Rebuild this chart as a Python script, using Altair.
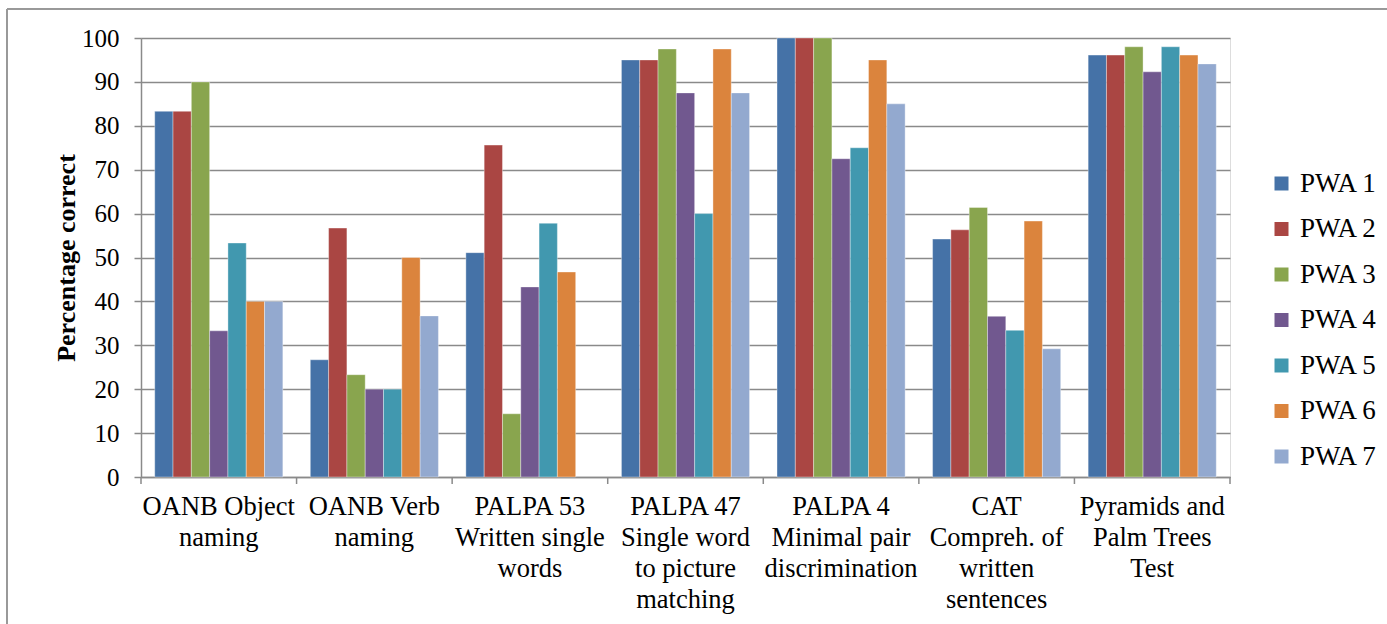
import altair as alt
import pandas as pd

categories = [
    "OANB Object\nnaming",
    "OANB Verb\nnaming",
    "PALPA 53\nWritten single\nwords",
    "PALPA 47\nSingle word\nto picture\nmatching",
    "PALPA 4\nMinimal pair\ndiscrimination",
    "CAT\nCompreh. of\nwritten\nsentences",
    "Pyramids and\nPalm Trees\nTest",
]
series = ["PWA 1", "PWA 2", "PWA 3", "PWA 4", "PWA 5", "PWA 6", "PWA 7"]
colors = ["#4572A7", "#AA4643", "#89A54E", "#71588F", "#4198AF", "#DB843D", "#93A9CF"]

pwa1 = [83.3, 26.7, 51.1, 95.0, 100.0, 54.2, 96.1]
pwa2 = [83.3, 56.7, 75.6, 95.0, 100.0, 56.3, 96.1]
pwa3 = [90.0, 23.3, 14.4, 97.5, 100.0, 61.4, 98.0]
pwa4 = [33.3, 20.0, 43.3, 87.5, 72.5, 36.6, 92.3]
pwa5 = [53.3, 20.0, 57.8, 60.0, 75.0, 33.4, 98.0]
pwa6 = [40.0, 50.0, 46.7, 97.5, 95.0, 58.3, 96.1]
pwa7 = [40.0, 36.7, None, 87.5, 85.0, 29.2, 94.1]

all_values = [pwa1, pwa2, pwa3, pwa4, pwa5, pwa6, pwa7]
rows = []
for s, vals in zip(series, all_values):
    for c, v in zip(categories, vals):
        if v is not None:
            rows.append({"test": c, "pwa": s, "score": v})
df = pd.DataFrame(rows)
cat_df = pd.DataFrame({"test": categories})
last_df = pd.DataFrame({"test": categories[-1:]})

W, H = 1089, 439
FONT = "Liberation Serif"
GRID = "#8a8a8a"

xscale = alt.Scale(domain=categories, paddingInner=0, paddingOuter=0)

bars = alt.Chart(df).mark_bar(stroke="white", strokeWidth=0.6, strokeOpacity=0.6).encode(
    x=alt.X(
        "test:N", sort=categories, scale=xscale,
        axis=alt.Axis(
            title=None, labelExpr="split(datum.value, '\\n')", labelAngle=0,
            ticks=False, labelPadding=16, labelLineHeight=31, labelFontSize=26.5,
            labelFont=FONT, labelColor="black", domainColor=GRID, domainWidth=1.5,
            labelBaseline="top",
        ),
    ),
    xOffset=alt.XOffset("pwa:N", sort=series,
                        scale=alt.Scale(domain=series, paddingInner=0, paddingOuter=0.75)),
    y=alt.Y(
        "score:Q", scale=alt.Scale(domain=[0, 100], nice=False),
        axis=alt.Axis(
            values=list(range(0, 101, 10)), title="Percentage correct",
            titleFont=FONT, titleFontSize=26, titleFontWeight="bold", titleColor="black",
            titlePadding=2, labelFont=FONT, labelFontSize=25, labelColor="black",
            labelPadding=15, tickSize=7, tickColor=GRID, tickWidth=1.5,
            domainColor=GRID, domainWidth=1.5, gridColor=GRID, gridWidth=1.5,
        ),
    ),
    color=alt.Color(
        "pwa:N", sort=series, scale=alt.Scale(domain=series, range=colors),
        legend=alt.Legend(
            title=None, orient="none", legendX=1127, legendY=132,
            symbolType="square", symbolSize=196, symbolStrokeWidth=0,
            labelFont=FONT, labelFontSize=27, labelColor="black",
            labelOffset=5, rowPadding=17.5, padding=0,
        ),
    ),
)

ticks = alt.Chart(cat_df).mark_rule(color=GRID, strokeWidth=1.5).encode(
    x=alt.X("test:N", sort=categories, scale=xscale, bandPosition=0),
    y=alt.value(H), y2=alt.value(H + 7),
)
end_tick = alt.Chart(last_df).mark_rule(color=GRID, strokeWidth=1.5).encode(
    x=alt.X("test:N", sort=categories, scale=xscale, bandPosition=1),
    y=alt.value(H), y2=alt.value(H + 7),
)

frame_left = alt.Chart(cat_df).mark_rule(color="#999999", strokeWidth=1).encode(
    x=alt.value(-134), y=alt.value(-29), y2=alt.value(624 - 38),
)
frame_top = alt.Chart(cat_df).mark_rule(color="#999999", strokeWidth=1).encode(
    x=alt.value(-134), x2=alt.value(1387 - 141), y=alt.value(-29),
)

chart = alt.layer(bars, ticks, end_tick, frame_left, frame_top).properties(
    width=W, height=H,
    autosize=alt.AutoSizeParams(type="none"),
    padding={"left": 141, "top": 38, "right": 1387 - 141 - W, "bottom": 624 - 38 - H},
).configure_view(stroke=None).configure(background="white")

chart.save("out.html", embed_options={"renderer": "svg", "actions": False})
